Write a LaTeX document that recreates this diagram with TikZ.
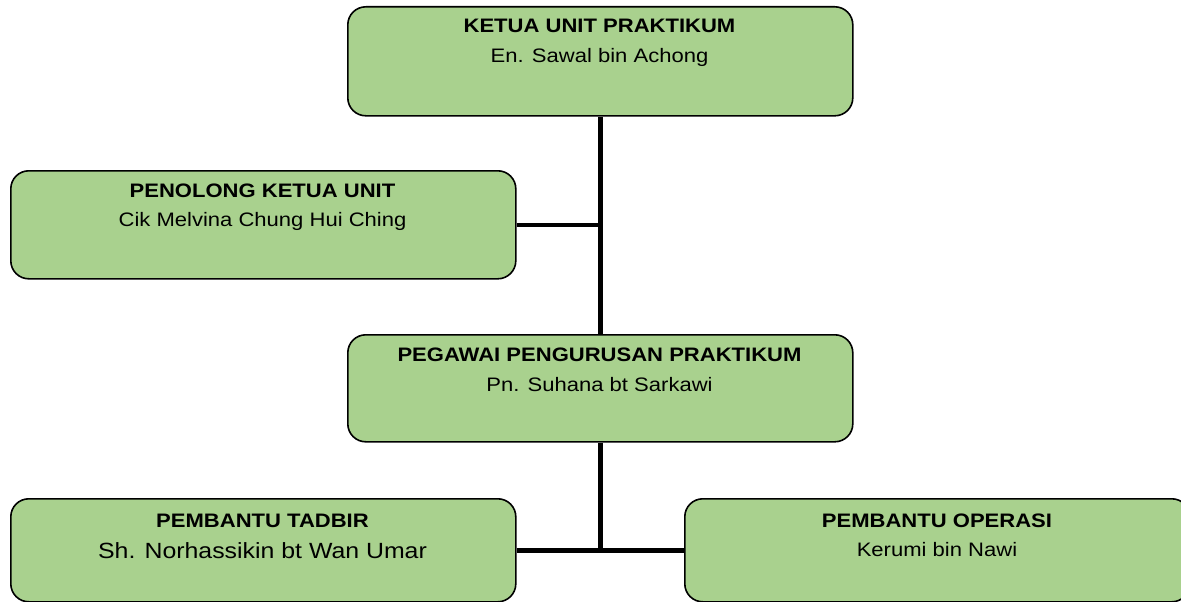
\documentclass[tikz,border=0pt]{standalone}
\usepackage{fontspec}
\setmainfont{Liberation Sans}[FakeStretch=1.13]
\definecolor{boxgreen}{HTML}{A9D18E}
\begin{document}
\begin{tikzpicture}[x=1pt,y=-1pt,
  box/.style={draw=black, line width=1.6pt, fill=boxgreen, rounded corners=18pt,
    minimum width=505pt, inner sep=0pt, anchor=north west},
  ttl/.style={anchor=base, inner sep=0pt, font=\fontsize{19.5}{22}\selectfont\bfseries},
  nm/.style={anchor=base, inner sep=0pt, font=\fontsize{19.5}{22}\selectfont},
  bignm/.style={anchor=base, inner sep=0pt, font=\fontsize{22}{25}\selectfont},
  conn/.style={draw=black, line width=4.5pt}]
\useasboundingbox (0,0) rectangle (1181,602);
% connectors first (behind boxes)
\node[box, minimum height=109pt] (top) at (347,6) {};
\node[box, minimum height=108pt] (pen) at (10,170) {};
\node[box, minimum height=107pt] (peg) at (347,334) {};
\node[box, minimum height=103pt] (tad) at (10,498) {};
\node[box, minimum height=103pt] (ope) at (684,498) {};
\coordinate (j1) at (pen.east -| top.south);
\coordinate (j2) at (tad.east -| peg.south);
\begin{scope}[on background layer/.style={}]
\draw[conn] (top.south) -- (peg.north);
\draw[conn] (pen.east) -- (j1);
\draw[conn] (peg.south) -- (j2);
\draw[conn] (tad.east) -- (ope.west);
\end{scope}
% texts
\node[ttl] (t1) at (599.5,33) {KETUA UNIT PRAKTIKUM};
\node[nm]  (n1) at (599.5,63) {En. Sawal bin Achong};
\node[ttl] (t2) at (262.5,197) {PENOLONG KETUA UNIT};
\node[nm]  (n2) at (262.5,226) {Cik Melvina Chung Hui Ching};
\node[ttl] (t3) at (599.5,361) {PEGAWAI PENGURUSAN PRAKTIKUM};
\node[nm]  (n3) at (599.5,391) {Pn. Suhana bt Sarkawi};
\node[ttl] (t4) at (262.5,527) {PEMBANTU TADBIR};
\node[bignm] (n4) at (262.5,558) {Sh. Norhassikin bt Wan Umar};
\node[ttl] (t5) at (937,527) {PEMBANTU OPERASI};
\node[nm]  (n5) at (937,556) {Kerumi bin Nawi};
\end{tikzpicture}
\end{document}
